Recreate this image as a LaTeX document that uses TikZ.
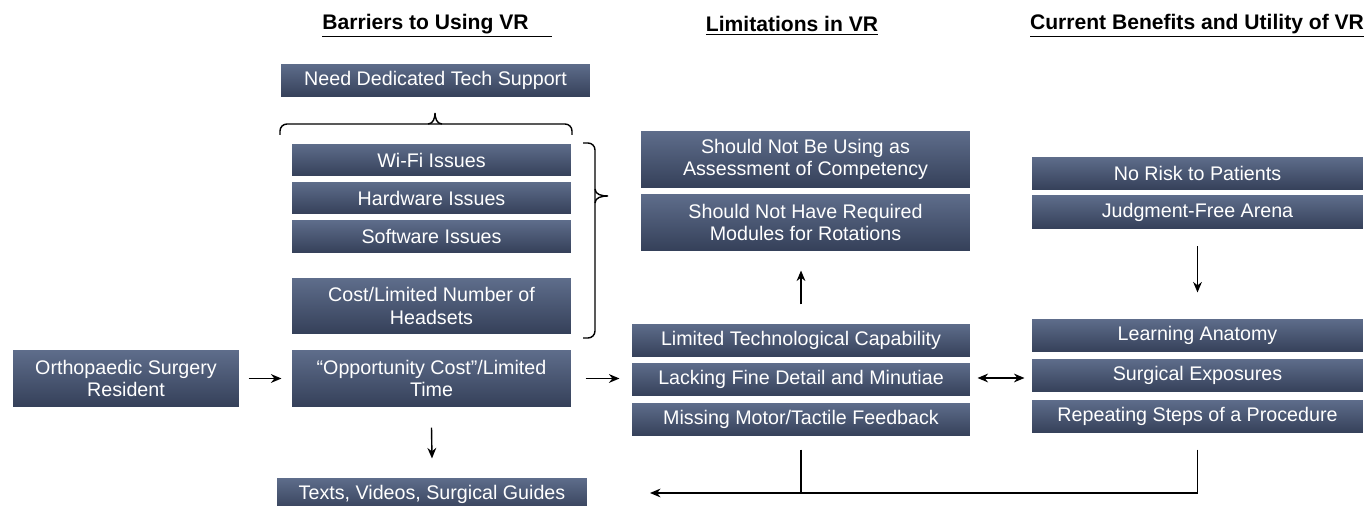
\documentclass[tikz,border=0pt]{standalone}
\usepackage{fontspec}
\setmainfont{Liberation Sans}
\usetikzlibrary{positioning, arrows.meta, calc}
\definecolor{BoxTop}{RGB}{95,110,140}
\definecolor{BoxBottom}{RGB}{52,63,88}

\begin{document}
\begin{tikzpicture}[
    x=0.02cm, y=0.02cm,
    >={Stealth[length=6pt, width=5pt]},
    box/.style={draw=white, line width=0.6pt, top color=BoxTop, bottom color=BoxBottom,
        text=white, align=center, inner sep=0pt, font=\fontsize{11.2}{13}\selectfont},
    boxsize/.style 2 args={minimum width=#1*0.02cm, minimum height=#2*0.02cm},
    heading/.style={font=\fontsize{12}{14}\selectfont\bfseries},
    link/.style={line width=0.8pt},
]
\useasboundingbox (0,0) rectangle (1368,506);
\clip (0,0) rectangle (1368,506);

% Column headings
\node[heading] (hBarrier) at (437, 480) {\underline{Barriers to Using VR\hspace{13pt}}};
\node[heading] (hLimit) at (792, 480) {\underline{Limitations in VR}};
\node[heading] (hBenefit) at (1197, 480) {\underline{Current Benefits and Utility of VR}};

% Barriers column
\node[box, boxsize={311}{35}] (tech) at (435.5, 425.5) {Need Dedicated Tech Support};
\node[box, boxsize={281}{34}] (wifi) at (431.5, 346) {Wi-Fi Issues};
\node[box, boxsize={281}{34}] (hardware) at (431.5, 308) {Hardware Issues};
\node[box, boxsize={281}{34}] (software) at (431.5, 269.5) {Software Issues};
\node[box, boxsize={281}{58}] (cost) at (431.5, 200) {Cost/Limited Number of\\Headsets};
\node[box, boxsize={281}{59}] (opp) at (431.5, 127.5) {“Opportunity Cost”/Limited\\Time};
\node[box, boxsize={228}{59}] (resident) at (126, 127.5) {Orthopaedic Surgery\\Resident};
\node[box, boxsize={312}{35}] (guides) at (432, 11.5) {Texts, Videos, Surgical Guides};

% Braces (square ends, small tip)
\draw[link, rounded corners=4] (280, 371) |- (435, 382) -| (572, 371);
\draw[link] (428, 382) to[out=0, in=-90] (435, 393) to[out=-90, in=180] (442, 382);
\draw[link, rounded corners=4] (583, 363) -| (595, 310) |- (583, 168);
\draw[link] (595, 317) to[out=-90, in=180] (608, 310) to[out=180, in=90] (595, 303);

% Limitations column
\node[box, boxsize={331}{59}] (assess) at (805.5, 346.5) {Should Not Be Using as\\Assessment of Competency};
\node[box, boxsize={331}{59}] (modules) at (805.5, 283.5) {Should Not Have Required\\Modules for Rotations};
\node[box, boxsize={340}{35}] (techcap) at (801, 165.5) {Limited Technological Capability};
\node[box, boxsize={340}{35}] (detail) at (801, 126.5) {Lacking Fine Detail and Minutiae};
\node[box, boxsize={340}{35}] (tactile) at (801, 86.5) {Missing Motor/Tactile Feedback};

% Benefits column
\node[box, boxsize={333}{35}] (norisk) at (1197.5, 332.5) {No Risk to Patients};
\node[box, boxsize={333}{35}] (judgment) at (1197.5, 294) {Judgment-Free Arena};
\node[box, boxsize={333}{35}] (anatomy) at (1197.5, 170.5) {Learning Anatomy};
\node[box, boxsize={333}{35}] (exposure) at (1197.5, 130.5) {Surgical Exposures};
\node[box, boxsize={333}{35}] (steps) at (1197.5, 89.5) {Repeating Steps of a Procedure};

% Arrows
\draw[link, ->] ($(resident.east)+(8,0)$) -- ($(opp.west)+(-9,0)$);
\draw[link, ->] ($(opp.east)+(13,0)$) -- ($(detail.west |- opp.east)+(-11,0)$);
\draw[link, ->] ($(opp.south)+(0,-19)$) -- ($(guides.north)+(0,18)$);
\draw[link, ->] ($(techcap.north)+(0,18)$) -- ($(techcap.north |- modules.south)+(0,-18)$);
\draw[link, ->] ($(judgment.south)+(0,-16)$) -- ($(anatomy.north)+(0,25)$);
\draw[link, <->] ($(detail.east)+(6,1.5)$) -- ($(exposure.west |- detail.east)+(-6,1.5)$);

% Return line to the guides
\coordinate (guideEnd) at (650, 13);
\draw[link, ->] ($(steps.south)+(0,-15)$) |- (guideEnd);
\draw[link] ($(tactile.south)+(0,-12)$) -- (tactile.south |- guideEnd);

\end{tikzpicture}
\end{document}
